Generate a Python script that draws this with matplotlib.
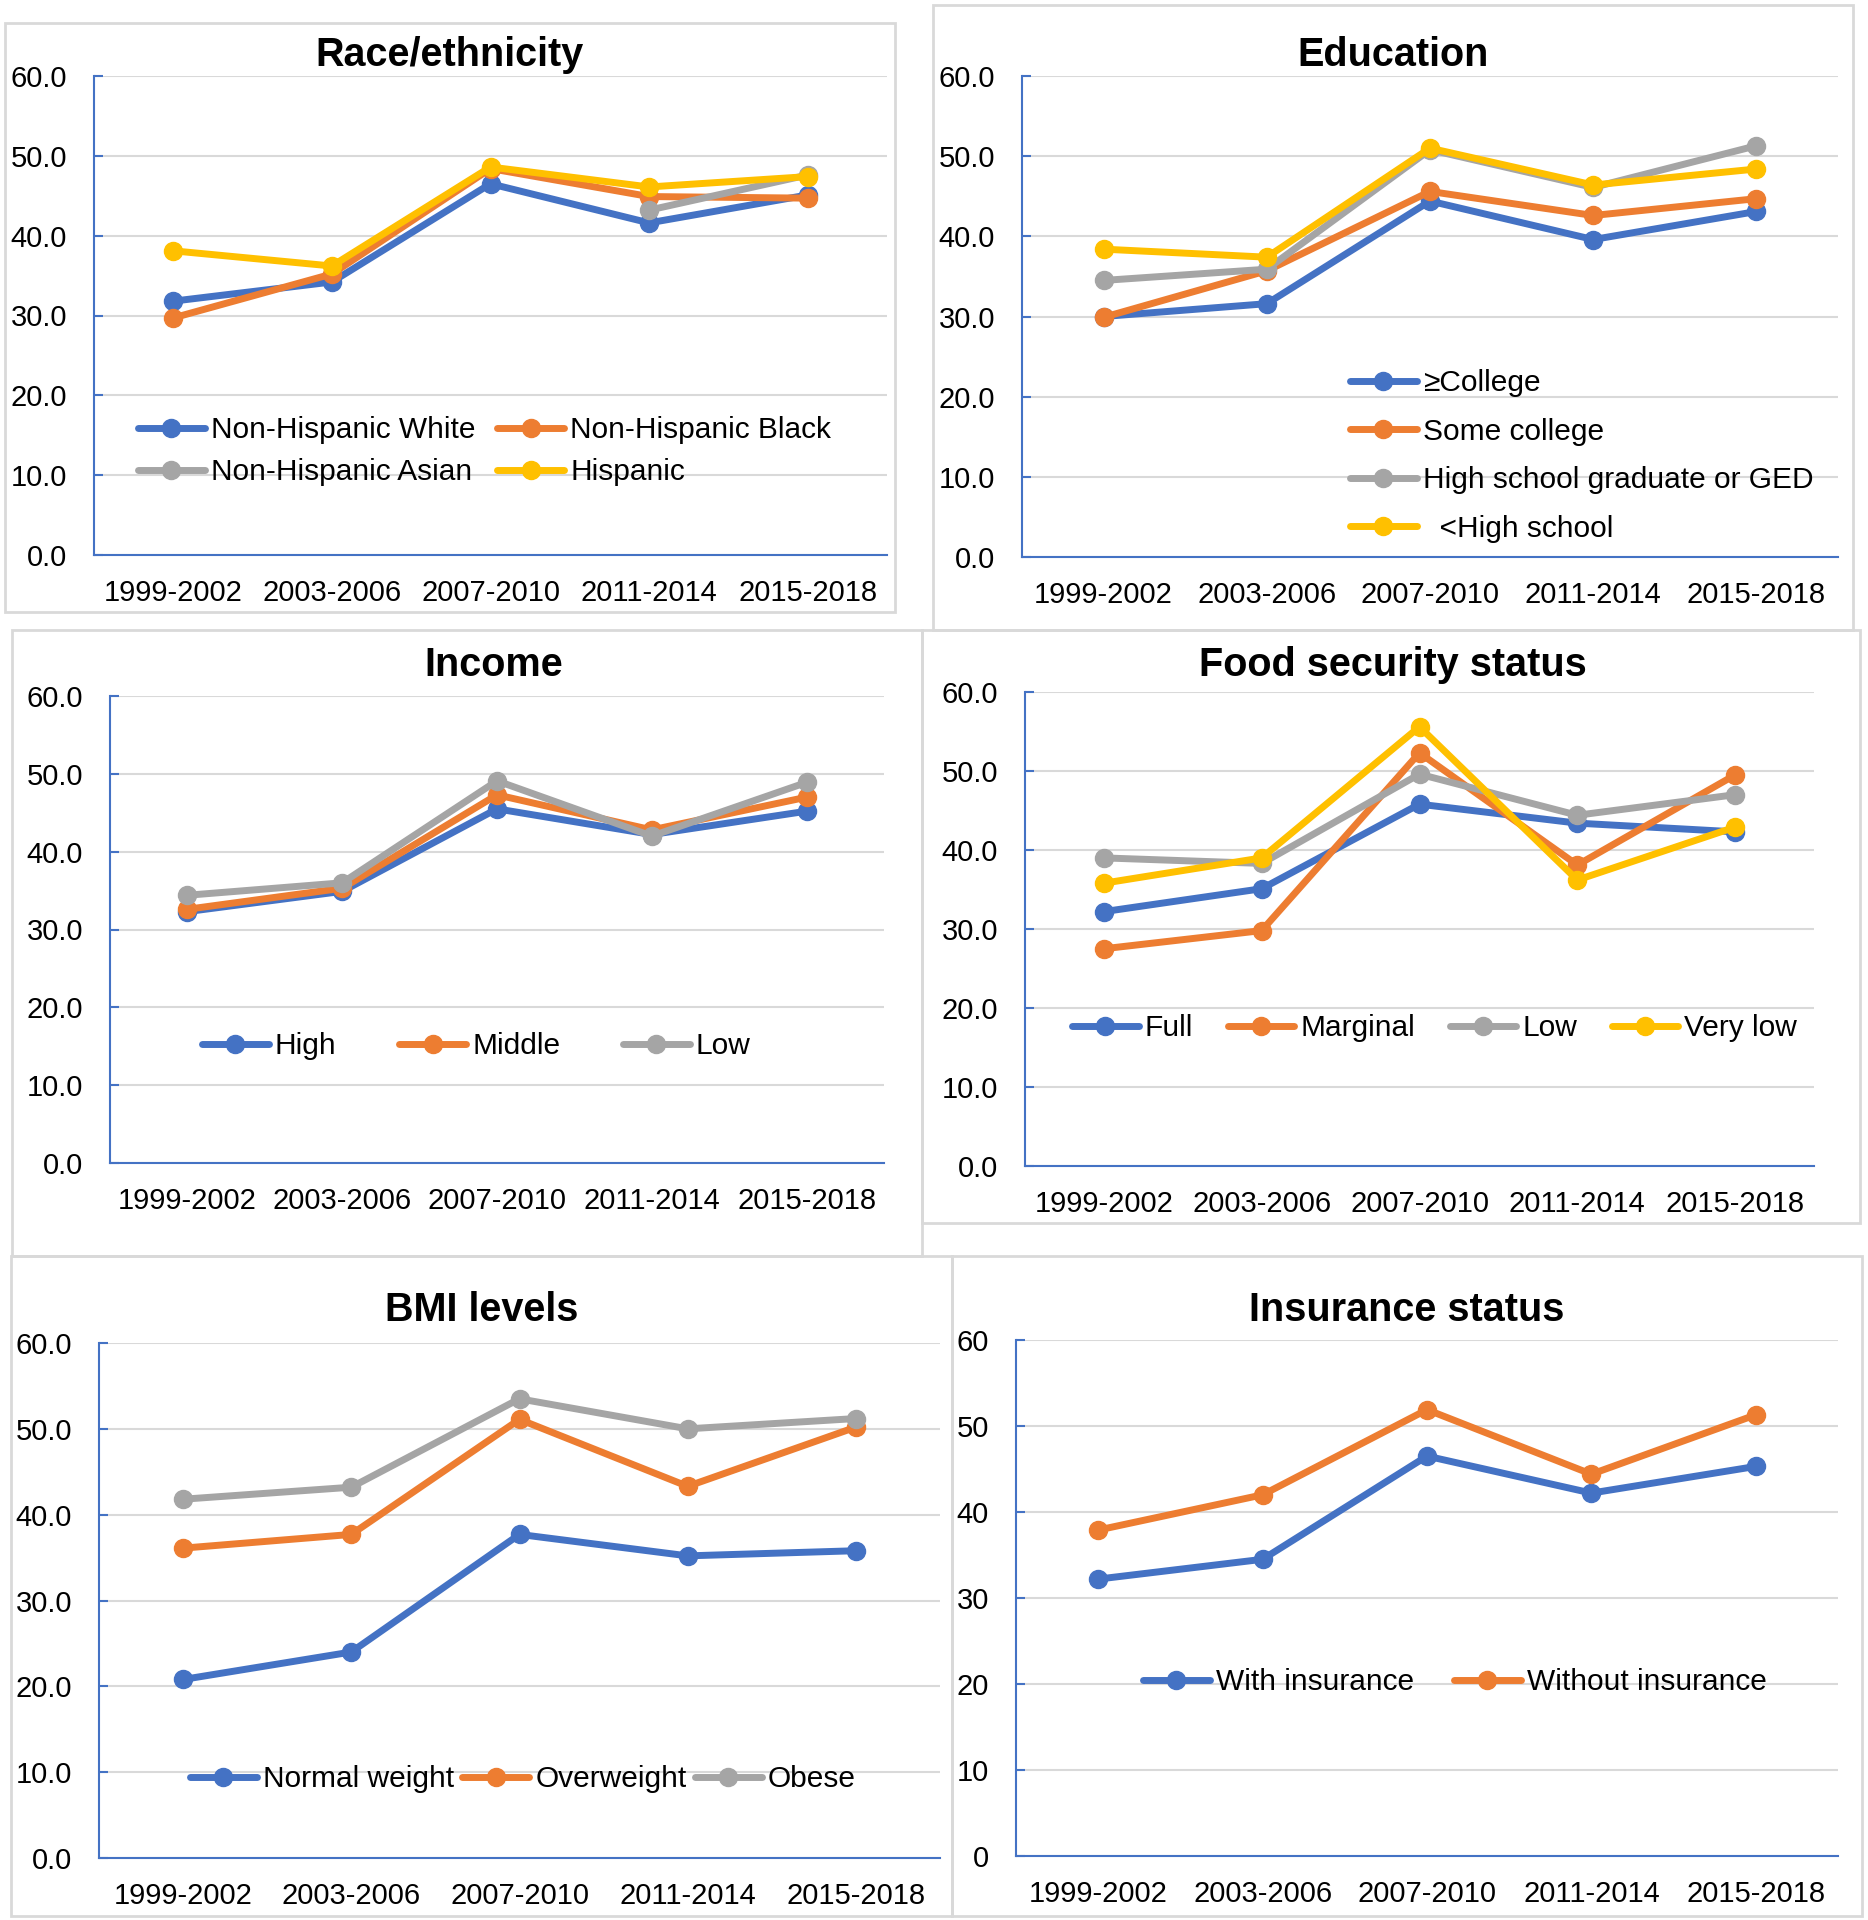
import matplotlib
matplotlib.use("Agg")
import matplotlib.pyplot as plt
from matplotlib.patches import Rectangle
from matplotlib.ticker import FormatStrFormatter
import numpy as np

plt.rcParams['font.family'] = ['Liberation Sans', 'DejaVu Sans']

# Data
periods = ['1999-2002', '2003-2006', '2007-2010', '2011-2014', '2015-2018']

race_labels = ['Non-Hispanic White', 'Non-Hispanic Black', 'Non-Hispanic Asian', 'Hispanic']
race_white = [31.8, 34.2, 46.5, 41.6, 45.1]
race_black = [29.7, 35.2, 48.4, 44.9, 44.7]
race_asian = [np.nan, np.nan, np.nan, 43.2, 47.6]
race_hisp = [38.1, 36.2, 48.6, 46.1, 47.4]

edu_labels = ['≥College', 'Some college', 'High school graduate or GED', '  <High school']
edu_college = [30.0, 31.6, 44.4, 39.6, 43.1]
edu_some = [29.9, 35.7, 45.6, 42.6, 44.7]
edu_hs = [34.5, 35.9, 50.8, 46.1, 51.3]
edu_lths = [38.4, 37.4, 51.0, 46.4, 48.4]

inc_labels = ['High', 'Middle', 'Low']
inc_high = [32.3, 34.9, 45.5, 42.2, 45.2]
inc_mid = [32.6, 35.3, 47.3, 42.8, 47.0]
inc_low = [34.4, 36.0, 49.1, 42.0, 48.9]

food_labels = ['Full', 'Marginal', 'Low', 'Very low']
food_full = [32.2, 35.1, 45.8, 43.4, 42.3]
food_marg = [27.5, 29.8, 52.3, 38.1, 49.5]
food_low = [39.0, 38.3, 49.6, 44.4, 47.0]
food_vlow = [35.8, 39.0, 55.6, 36.2, 42.9]

bmi_labels = ['Normal weight', 'Overweight', 'Obese']
bmi_normal = [20.8, 24.0, 37.7, 35.2, 35.8]
bmi_over = [36.1, 37.7, 51.1, 43.3, 50.2]
bmi_obese = [41.8, 43.2, 53.5, 50.0, 51.2]

ins_labels = ['With insurance', 'Without insurance']
ins_with = [32.2, 34.5, 46.5, 42.2, 45.3]
ins_without = [37.9, 42.0, 51.9, 44.4, 51.3]

colors = ['#4472C4', '#ED7D31', '#A5A5A5', '#FFC000']
AXBLUE = '#4472C4'
GRID = '#D9D9D9'

W, H = 1868, 1920
fig = plt.figure(figsize=(W / 100, H / 100), dpi=100)


def px_axes(l, t, r, b):
    return fig.add_axes([l / W, 1 - b / H, (r - l) / W, (b - t) / H])


def box(l, t, r, b):
    fig.patches.append(Rectangle((l / W, 1 - b / H), (r - l) / W, (b - t) / H,
                                 transform=fig.transFigure, fill=False,
                                 ec=GRID, lw=2, zorder=0))


def panel(pos, title, title_xy, series, labels, leg_xy, ncol, colsp, labsp,
          fmt='%.1f', order=None):
    ax = px_axes(*pos)
    x = np.arange(len(periods))
    for k, s in enumerate(series):
        ax.plot(x, s, color=colors[k], lw=5, marker='o', ms=13,
                solid_capstyle='round', label=labels[k], zorder=3 + k)
    ax.set_xlim(-0.5, len(periods) - 0.5)
    ax.set_ylim(0, 60)
    ax.set_yticks(range(0, 61, 10))
    ax.yaxis.set_major_formatter(FormatStrFormatter(fmt))
    ax.set_xticks(x)
    ax.set_xticklabels(periods)
    ax.grid(axis='y', color=GRID, lw=1.5)
    ax.set_axisbelow(True)
    for s in ['top', 'right']:
        ax.spines[s].set_visible(False)
    for s in ['left', 'bottom']:
        ax.spines[s].set_color(AXBLUE)
        ax.spines[s].set_linewidth(1.5)
    ax.tick_params(axis='y', direction='in', length=6.5, width=1.5, color=AXBLUE,
                   labelsize=21, pad=19.5)
    ax.tick_params(axis='x', length=0, labelsize=21, pad=17.5)
    fig.text(title_xy[0] / W, 1 - (title_xy[1] + 4) / H, title, ha='center', va='center',
             fontsize=28.5, fontweight='bold')
    handles, labs = ax.get_legend_handles_labels()
    if order is not None:
        # legend filled row by row like Excel
        handles = [handles[i] for i in order]
        labs = [labs[i] for i in order]
    ax.legend(handles, labs, loc='center left',
              bbox_to_anchor=(leg_xy[0] / W, 1 - leg_xy[1] / H),
              bbox_transform=fig.transFigure, ncol=ncol, frameon=False,
              fontsize=21.5, borderpad=0, borderaxespad=0, handlelength=2.24,
              handletextpad=0.2, columnspacing=colsp, labelspacing=labsp)
    return ax


box(5, 23, 895, 612)
box(933, 5, 1853, 630)
box(12, 630, 922, 1256)
box(922, 630, 1860, 1223)
box(11, 1256, 952, 1916)
box(952, 1256, 1862, 1916)

panel((94, 76, 887, 555), 'Race/ethnicity', (450, 51),
      [race_white, race_black, race_asian, race_hisp], race_labels,
      (138, 451), 2, 0.74, 0.47, order=[0, 2, 1, 3])
panel((1022, 76, 1838, 557), 'Education', (1393, 51),
      [edu_college, edu_some, edu_hs, edu_lths], edu_labels,
      (1350, 456), 1, 1.0, 0.69)
panel((110, 696, 884, 1163), 'Income', (494, 661),
      [inc_high, inc_mid, inc_low], inc_labels,
      (202, 1046), 3, 2.1, 0.3)
panel((1025, 692, 1814, 1166), 'Food security status', (1393, 661),
      [food_full, food_marg, food_low, food_vlow], food_labels,
      (1072, 1028), 4, 1.15, 0.3)
panel((99, 1343, 940, 1858), 'BMI levels', (482, 1306),
      [bmi_normal, bmi_over, bmi_obese], bmi_labels,
      (190, 1779), 3, 0.28, 0.3)
panel((1016, 1340, 1838, 1856), 'Insurance status', (1407, 1306),
      [ins_with, ins_without], ins_labels,
      (1143, 1682), 2, 1.34, 0.3, fmt='%d')

fig.savefig('out.png', dpi=100)
